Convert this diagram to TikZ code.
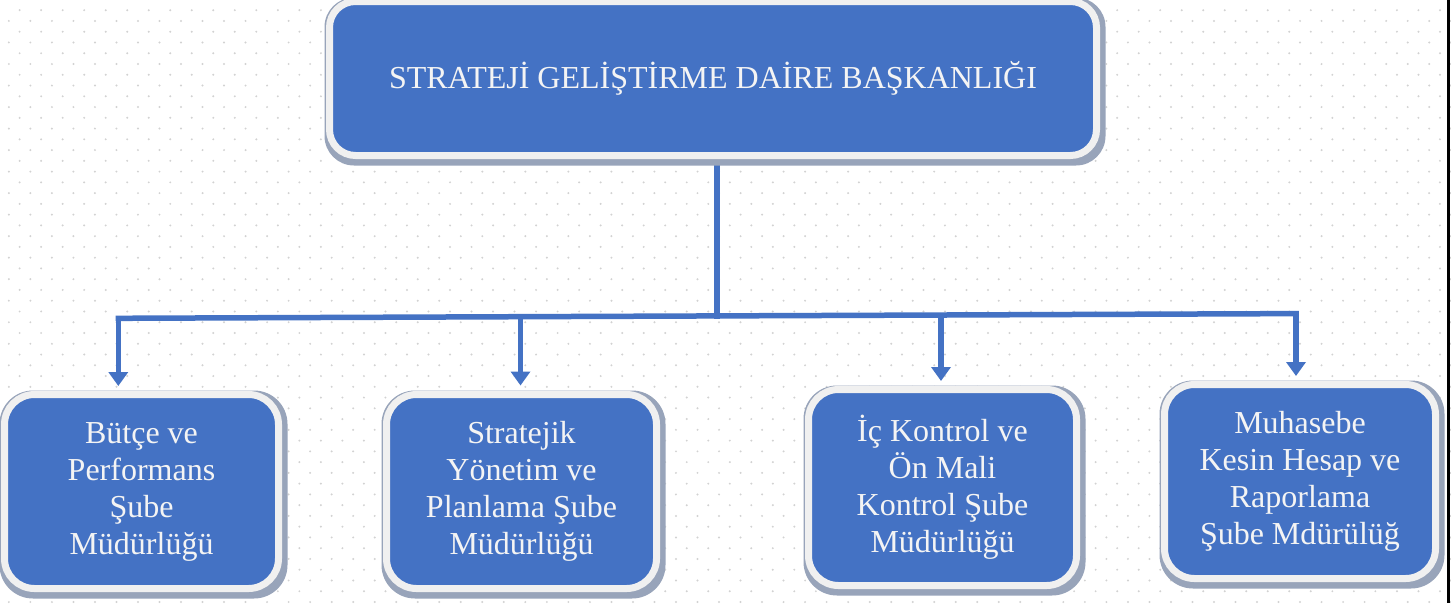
\documentclass[tikz,border=0pt]{standalone}
\usepackage{fontspec}
\setmainfont{Liberation Serif}
\usetikzlibrary{arrows.meta,calc}
\definecolor{boxblue}{HTML}{4472C4}
\definecolor{borderc}{HTML}{F0F0F0}
\definecolor{shadowc}{HTML}{98A4BA}
\definecolor{textc}{HTML}{F4F4F4}
\definecolor{dotc}{HTML}{D2D2D2}
\newcommand\boxfont{\fontsize{32}{37}\selectfont}
\pgfdeclarelayer{dots}
\pgfdeclarelayer{lines}
\pgfdeclarelayer{shadow}
\pgfsetlayers{dots,lines,shadow,main}
\tikzset{
  box/.style={draw=borderc, line width=7pt, fill=boxblue, text=textc,
    font=\boxfont, align=center, inner sep=0pt},
  conn/.style={draw=boxblue, line width=5.5pt, line cap=rect},
  arrowc/.style={draw=boxblue, line width=5.5pt,
    -{Triangle[width=19pt,length=14pt]}},
  bgdot/.style={fill=dotc},
}
\begin{document}
\begin{tikzpicture}[x=1pt,y=-1pt]
\useasboundingbox (0,0) rectangle (1451,603);

% nodes
\node[box, rounded corners=26pt, minimum width=767, minimum height=154] (top) at (713,78.5)
  {STRATEJİ GELİŞTİRME DAİRE BAŞKANLIĞI};
\node[box, rounded corners=30pt, minimum width=274, minimum height=194] (b1) at (141.5,491.5)
  {Bütçe ve\\Performans\\Şube\\Müdürlüğü};
\node[box, rounded corners=30pt, minimum width=270, minimum height=194] (b2) at (521.5,491.5)
  {Stratejik\\Yönetim ve\\Planlama Şube\\Müdürlüğü};
\node[box, rounded corners=30pt, minimum width=268, minimum height=196] (b3) at (942.5,487.5)
  {İç Kontrol ve\\Ön Mali\\Kontrol Şube\\Müdürlüğü};
\node[box, rounded corners=30pt, minimum width=271, minimum height=194] (b4) at (1300,481.5)
  {Muhasebe\\Kesin Hesap ve\\Raporlama\\Şube Mdürülüğ};

% background and dots
\begin{pgfonlayer}{dots}
\fill[white] (0,0) rectangle (1451,603);
\foreach \i in {0,...,68}{
  \foreach \j in {0,...,28}{
    \fill[bgdot] ({-1.9+21.52*\i},{10.2+21.52*\j}) circle (1.1);
    \fill[bgdot] ({8.86+21.52*\i},{20.96+21.52*\j}) circle (1.1);
  }
}
\end{pgfonlayer}

% shadows
\begin{pgfonlayer}{shadow}
\foreach \n/\r in {top/29.5,b1/33.5,b2/33.5,b3/33.5,b4/33.5}{
  \fill[shadowc, rounded corners=\r pt]
    ([shift={(-1.5,-0.5)}]\n.north west) rectangle ([shift={(5.5,6.5)}]\n.south east);
}
\end{pgfonlayer}

% connectors
\coordinate (j) at (717,316);
\coordinate (h1) at (118.3,318.3);
\coordinate (h2) at (520.5,316.7);
\coordinate (h3) at (941,315.0);
\coordinate (h4) at (1296,313.6);
\coordinate (t1) at ($(b1.north)+(0,-5)$);
\coordinate (t2) at ($(b2.north)+(0,-5.5)$);
\coordinate (t3) at ($(b3.north)+(0,-5)$);
\coordinate (t4) at ($(b4.north)+(0,-5)$);
\begin{pgfonlayer}{lines}
\draw[conn] (top.center -| j) -- (j);
\draw[conn] (h1) -- (h4);
\draw[arrowc] (h1) -- (h1 |- t1);
\draw[arrowc] (h2) -- (h2 |- t2);
\draw[arrowc] (h3) -- (h3 |- t3);
\draw[arrowc] (h4) -- (h4 |- t4);
\end{pgfonlayer}

% right edge rule
\fill[black] (1446.8,0) rectangle (1449.5,603);
\end{tikzpicture}
\end{document}
